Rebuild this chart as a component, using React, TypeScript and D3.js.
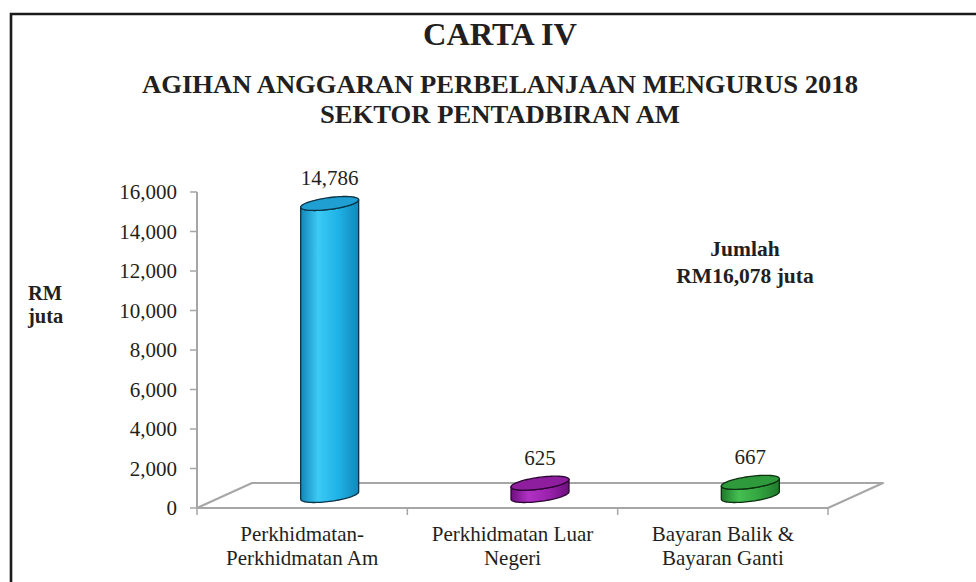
import React from "react";
import * as d3 from "d3";

const categories = [
  ["Perkhidmatan-", "Perkhidmatan Am"],
  ["Perkhidmatan Luar", "Negeri"],
  ["Bayaran Balik &", "Bayaran Ganti"],
];
const values = [14786, 625, 667];
const valueLabels = ["14,786", "625", "667"];
const yTicks = [0, 2000, 4000, 6000, 8000, 10000, 12000, 14000, 16000];
const palettes = [
  { dark: "#1386b8", light: "#3ccaf5", mid: "#1fb2e6", top: "#1f9fd2", edge: "#0b3346" },
  { dark: "#6e0f7e", light: "#b032c4", mid: "#9a22ad", top: "#8e1e9e", edge: "#2a0530" },
  { dark: "#1f7a2b", light: "#45bf52", mid: "#33a540", top: "#2e9a3c", edge: "#0c3010" },
];

const W = 976;
const H = 582;
const floorLeft = 197;
const floorRight = 828;
const floorFrontY = 508;
const depthDx = 55;
const depthDy = -25;
const plotHeight = 316;
const serif = '"Liberation Serif", "Times New Roman", Times, "DejaVu Serif", serif';

export default function App() {
  const x = d3
    .scaleBand<number>()
    .domain(categories.map((_, i) => i))
    .range([floorLeft, floorRight])
    .padding(0);
  const yFront = d3.scaleLinear().domain([0, 16000]).range([floorFrontY, floorFrontY - plotHeight]);
  const midBase = floorFrontY + depthDy / 2;
  const yMid = d3.scaleLinear().domain([0, 16000]).range([midBase, midBase - plotHeight]);

  const halfW = 29;
  const k = 0.28;
  const ux = depthDx * k;
  const uy = depthDy * k;
  const rx = Math.sqrt(halfW * halfW - ux * ux);
  const t0 = Math.atan2(ux, rx);
  const pt = (cx: number, yc: number, t: number): [number, number] => [
    cx + rx * Math.cos(t) + ux * Math.sin(t),
    yc + uy * Math.sin(t),
  ];
  const line = d3.line();
  const N = 40;

  const cylinders = values.map((v, i) => {
    const cx = (x(i) as number) + x.bandwidth() / 2 + depthDx / 2;
    const yb = yMid(0);
    const yt = yMid(v);
    const pts: [number, number][] = [];
    pts.push(pt(cx, yt, t0));
    for (let j = 0; j <= N; j++) pts.push(pt(cx, yb, t0 - (Math.PI * j) / N));
    for (let j = 0; j <= N; j++) pts.push(pt(cx, yt, t0 - Math.PI + (Math.PI * j) / N));
    const body = line(pts) + "Z";
    const topPts: [number, number][] = [];
    for (let j = 0; j <= 2 * N; j++) topPts.push(pt(cx, yt, (Math.PI * j) / N));
    const top = line(topPts) + "Z";
    return { cx, yt, body, top, i };
  });

  const floor = line([
    [floorLeft, floorFrontY],
    [floorRight, floorFrontY],
    [floorRight + depthDx, floorFrontY + depthDy],
    [floorLeft + depthDx, floorFrontY + depthDy],
  ]) + "Z";

  const xTickPos = [...categories.map((_, i) => x(i) as number), floorRight];

  return (
    <svg
      width={W}
      height={H}
      style={{ position: "absolute", left: 0, top: 0, display: "block", background: "#fff", fontFamily: serif }}
    >
      <defs>
        {palettes.map((p, i) => (
          <linearGradient id={`g${i}`} key={i} x1="0" x2="1" y1="0" y2="0">
            <stop offset="0%" stopColor={p.dark} />
            <stop offset="30%" stopColor={p.light} />
            <stop offset="65%" stopColor={p.mid} />
            <stop offset="100%" stopColor={p.dark} />
          </linearGradient>
        ))}
      </defs>
      <rect x={0} y={0} width={W} height={H} fill="#fff" />
      <path d={`M11,${H + 5} L11,14 L${W + 5},14`} fill="none" stroke="#1a1a1a" strokeWidth={2.6} />

      <text x={500} y={45} textAnchor="middle" fontWeight="bold" fontSize={31} fill="#231f20"
        textLength={154} lengthAdjust="spacingAndGlyphs">
        CARTA IV
      </text>
      <text x={500} y={93} textAnchor="middle" fontWeight="bold" fontSize={26} fill="#231f20"
        textLength={716} lengthAdjust="spacingAndGlyphs">
        AGIHAN ANGGARAN PERBELANJAAN MENGURUS 2018
      </text>
      <text x={500} y={123} textAnchor="middle" fontWeight="bold" fontSize={26} fill="#231f20"
        textLength={360} lengthAdjust="spacingAndGlyphs">
        SEKTOR PENTADBIRAN AM
      </text>

      <path d={floor} fill="none" stroke="#a6a6a6" strokeWidth={2} strokeLinejoin="round" />

      <line x1={floorLeft} x2={floorLeft} y1={yFront(16000)} y2={yFront(0)} stroke="#a6a6a6" strokeWidth={2} />
      {yTicks.map((t) => (
        <g key={t}>
          <line x1={floorLeft - 7} x2={floorLeft} y1={yFront(t)} y2={yFront(t)} stroke="#a6a6a6" strokeWidth={1.5} />
          <text x={177} y={yFront(t) + 7} textAnchor="end" fontSize={21} fill="#231f20">
            {d3.format(",")(t)}
          </text>
        </g>
      ))}

      {xTickPos.map((p, i) => (
        <line key={i} x1={p} x2={p} y1={floorFrontY} y2={floorFrontY + 7} stroke="#a6a6a6" strokeWidth={1.5} />
      ))}

      {categories.map((c, i) => (
        <text key={i} textAnchor="middle" fontSize={21} fill="#231f20">
          {c.map((ln, j) => (
            <tspan key={j} x={(x(i) as number) + x.bandwidth() / 2} y={541 + j * 24}>
              {ln}
            </tspan>
          ))}
        </text>
      ))}

      {cylinders.map((c) => (
        <g key={c.i}>
          <path d={c.body} fill={`url(#g${c.i})`} stroke={palettes[c.i].edge} strokeWidth={1.3} strokeLinejoin="round" />
          <path d={c.top} fill={palettes[c.i].top} stroke={palettes[c.i].edge} strokeWidth={1.3} />
          <text x={c.cx} y={c.yt - 18} textAnchor="middle" fontSize={21} fill="#231f20">
            {valueLabels[c.i]}
          </text>
        </g>
      ))}

      <text fontWeight="bold" fontSize={20.5} fill="#231f20">
        <tspan x={28} y={300}>RM</tspan>
        <tspan x={28} y={323}>juta</tspan>
      </text>

      <text textAnchor="middle" fontWeight="bold" fontSize={21.5} fill="#231f20">
        <tspan x={745} y={256}>Jumlah</tspan>
        <tspan x={745} y={283}>RM16,078 juta</tspan>
      </text>
    </svg>
  );
}
